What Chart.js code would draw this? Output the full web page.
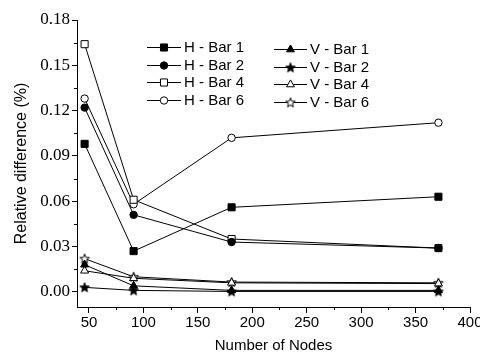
<!DOCTYPE html>
<html>
<head>
<meta charset="utf-8">
<script src="https://cdn.jsdelivr.net/npm/chart.js@4.4.0/dist/chart.umd.min.js"></script>
<style>
  html, body { margin: 0; padding: 0; background: #fff; }
  #grafico { display: block; }
</style>
</head>
<body>
<canvas id="grafico" width="480" height="356"></canvas>
<script>
// numero de nodos de cada malla
const nodos = [46, 91, 181, 371];

// diferencia relativa (%) por barra
const hBar1 = [0.098, 0.027, 0.056, 0.063];
const hBar2 = [0.122, 0.051, 0.033, 0.029];
const hBar4 = [0.164, 0.061, 0.035, 0.029];
const hBar6 = [0.128, 0.058, 0.102, 0.112];
const vBar1 = [0.018, 0.004, 0.001, 0.001];
const vBar2 = [0.003, 0.001, 0.0003, 0.0003];
const vBar4 = [0.014, 0.009, 0.006, 0.0055];
const vBar6 = [0.022, 0.010, 0.0065, 0.006];

const etiquetas = ['H - Bar 1', 'H - Bar 2', 'H - Bar 4', 'H - Bar 6',
                   'V - Bar 1', 'V - Bar 2', 'V - Bar 4', 'V - Bar 6'];

const xTicks = [50, 100, 150, 200, 250, 300, 350, 400];
const yTicks = [0, 0.03, 0.06, 0.09, 0.12, 0.15, 0.18];

const sans = '"Liberation Sans", Arial, sans-serif';
const serif = '"Liberation Serif", "Times New Roman", serif';

// estrella de 5 puntas como imagen para pointStyle
function estrella(relleno) {
  const c = document.createElement('canvas');
  c.width = 12;
  c.height = 12;
  const g = c.getContext('2d');
  g.beginPath();
  for (let i = 0; i < 10; i++) {
    const r = i % 2 === 0 ? 5 : 2.1;
    const a = -Math.PI / 2 + i * Math.PI / 5;
    const px = 6 + r * Math.cos(a);
    const py = 6.4 + r * Math.sin(a);
    if (i === 0) g.moveTo(px, py); else g.lineTo(px, py);
  }
  g.closePath();
  g.fillStyle = relleno;
  g.fill();
  g.strokeStyle = '#000';
  g.lineWidth = 1;
  g.stroke();
  return c;
}

const series = [hBar1, hBar2, hBar4, hBar6, vBar1, vBar2, vBar4, vBar6];
const marcas = ['rect', 'circle', 'rect', 'circle', 'triangle', estrella('#000'), 'triangle', estrella('#fff')];
const rellenos = ['#000', '#000', '#fff', '#fff', '#000', '#000', '#fff', '#fff'];
const radios = [5, 3.7, 5, 3.7, 4.6, 5, 4.6, 5];

const datasets = series.map((valores, i) => ({
  label: etiquetas[i],
  data: nodos.map((n, j) => ({ x: n, y: valores[j] })),
  borderColor: '#000',
  borderWidth: 1,
  pointStyle: marcas[i],
  pointRadius: radios[i],
  pointBackgroundColor: rellenos[i],
  pointBorderColor: '#000',
  pointBorderWidth: 1
}));

// leyenda en dos columnas
const leyenda = {
  id: 'leyenda',
  afterDraw(chart) {
    const ctx = chart.ctx;
    ctx.save();
    ctx.font = '15px ' + sans;
    ctx.textBaseline = 'middle';
    chart.data.datasets.forEach((ds, i) => {
      const col = i < 4 ? { x0: 147, x1: 181, y: 47 } : { x0: 274, x1: 307, y: 49 };
      const y = Math.round(col.y + (i % 4) * 17.6) + 0.5;
      ctx.strokeStyle = '#000';
      ctx.lineWidth = 1;
      ctx.beginPath();
      ctx.moveTo(col.x0, y);
      ctx.lineTo(col.x1, y);
      ctx.stroke();
      ctx.fillStyle = ds.pointBackgroundColor;
      Chart.helpers.drawPoint(ctx, {
        pointStyle: ds.pointStyle,
        radius: ds.pointRadius,
        borderWidth: 1,
        rotation: 0
      }, (col.x0 + col.x1) / 2, y);
      ctx.fillStyle = '#000';
      ctx.fillText(ds.label, col.x1 + 3, y);
    });
    ctx.restore();
  }
};

// ticks menores entre los mayores
const ticksMenores = {
  id: 'ticksMenores',
  afterDraw(chart) {
    const { ctx, chartArea, scales } = chart;
    ctx.save();
    ctx.strokeStyle = '#000';
    ctx.lineWidth = 1;
    ctx.beginPath();
    for (let i = 0; i < xTicks.length - 1; i++) {
      const px = Math.round(scales.x.getPixelForValue((xTicks[i] + xTicks[i + 1]) / 2)) + 0.5;
      ctx.moveTo(px, chartArea.bottom);
      ctx.lineTo(px, chartArea.bottom + 3);
    }
    for (let i = 0; i < yTicks.length - 1; i++) {
      const py = Math.round(scales.y.getPixelForValue((yTicks[i] + yTicks[i + 1]) / 2)) + 0.5;
      ctx.moveTo(chartArea.left, py);
      ctx.lineTo(chartArea.left - 3, py);
    }
    ctx.stroke();
    ctx.restore();
  }
};

new Chart(document.getElementById('grafico'), {
  type: 'line',
  data: { datasets: datasets },
  plugins: [leyenda, ticksMenores],
  options: {
    responsive: false,
    animation: false,
    devicePixelRatio: 1,
    layout: { padding: { top: 20, right: 10, left: 0, bottom: 0 } },
    plugins: {
      legend: { display: false },
      tooltip: { enabled: false }
    },
    scales: {
      x: {
        type: 'linear',
        min: 39,
        max: 400,
        afterBuildTicks: (s) => { s.ticks = xTicks.map(v => ({ value: v })); },
        afterFit: (s) => { s.height = 49; s.paddingLeft = 0; s.paddingRight = 0; },
        grid: { drawOnChartArea: false, drawTicks: true, tickLength: 6, color: '#000' },
        border: { display: true, color: '#000', width: 1 },
        ticks: {
          color: '#000',
          font: { family: sans, size: 15 },
          padding: 1,
          maxRotation: 0,
          autoSkip: false
        },
        title: {
          display: true,
          text: 'Number of Nodes',
          color: '#000',
          font: { family: sans, size: 15 },
          padding: { top: 0, bottom: 1 }
        }
      },
      y: {
        min: -0.01,
        max: 0.18,
        afterBuildTicks: (s) => { s.ticks = yTicks.map(v => ({ value: v })); },
        afterFit: (s) => { s.width = 77; s.paddingTop = 0; s.paddingBottom = 0; },
        grid: { drawOnChartArea: false, drawTicks: true, tickLength: 5, color: '#000' },
        border: { display: true, color: '#000', width: 1 },
        ticks: {
          color: '#000',
          font: { family: serif, size: 17 },
          padding: 2,
          callback: (v) => v.toFixed(2)
        },
        title: {
          display: true,
          text: 'Relative difference (%)',
          color: '#000',
          font: { family: sans, size: 16 },
          padding: { top: 12, bottom: 0 }
        }
      }
    }
  }
});
</script>
</body>
</html>
